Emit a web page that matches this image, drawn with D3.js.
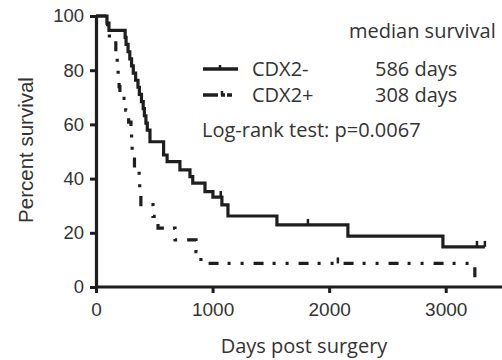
<!DOCTYPE html>
<html><head><meta charset="utf-8">
<script src="https://cdn.jsdelivr.net/npm/d3@7"></script>
<style>
html,body{margin:0;padding:0;background:#fff;}
svg{display:block;}
</style></head>
<body>
<svg id="c" width="502" height="360"></svg>
<script>
// ---- data ----
const negTimes = [0, 94, 111, 250, 258, 275, 290, 305, 320, 340, 360, 372, 390, 405, 415, 428, 440, 463, 580, 610, 720, 806, 830, 935, 1003, 1080, 1132, 1552, 2161, 2976, 3336];
const negSurv  = [100, 97.4, 94.7, 92.1, 89.5, 86.8, 84.2, 81.6, 78.9, 76.3, 73.7, 71.1, 68.4, 65.8, 63.2, 60.5, 57.9, 53.6, 48.7, 46.3, 43.2, 40.7, 38.3, 35.2, 33.2, 30.3, 26.2, 22.9, 18.8, 14.8, 14.8];
const negCensorTimes = [1070, 1818, 3268, 3336];
const negCensorSurv  = [33.2, 22.9, 14.8, 14.8];

const posTimes = [0, 100, 115, 170, 182, 190, 198, 205, 255, 280, 300, 305, 310, 330, 370, 375, 385, 489, 532, 678, 858, 900, 3250];
const posSurv  = [100, 95.65, 91.3, 86.96, 82.61, 78.26, 73.91, 69.57, 65.22, 60.87, 56.52, 52.17, 47.83, 43.48, 39.13, 34.78, 30.43, 26.09, 21.74, 17.39, 13.04, 8.7, 0];
const posCensorTimes = [2075];
const posCensorSurv  = [8.7];

const xTicks = [0, 1000, 2000, 3000];
const yTicks = [0, 20, 40, 60, 80, 100];
const seriesNames = ["CDX2-", "CDX2+"];
const medianLabels = ["586 days", "308 days"];
const medianTitle = "median survival";
const testLabel = "Log-rank test: p=0.0067";
const xTitle = "Days post surgery";
const yTitle = "Percent survival";

// ---- chart ----
const svg = d3.select("#c");
const ink = "#1e1e1e", txt = "#333";
const dashPat = "10,9,3,10,3,10";
const x = d3.scaleLinear().domain([0, 3500]).range([96, 504]);
const y = d3.scaleLinear().domain([0, 100]).range([287, 16]);

const line = d3.line().x(d => x(d[0])).y(d => y(d[1])).curve(d3.curveStepAfter);
const negData = negTimes.map((t, i) => [t, negSurv[i]]);
const posData = posTimes.map((t, i) => [t, posSurv[i]]);

svg.append("path").datum(negData).attr("d", line)
  .attr("fill", "none").attr("stroke", ink).attr("stroke-width", 3.2)
  .attr("stroke-linejoin", "miter");
svg.append("path").datum(posData).attr("d", line)
  .attr("fill", "none").attr("stroke", ink).attr("stroke-width", 3.2)
  .attr("stroke-dasharray", dashPat);

// censor ticks
function censor(ts, ss) {
  svg.append("g").selectAll("line").data(ts.map((t, i) => [t, ss[i]])).join("line")
    .attr("x1", d => x(d[0])).attr("x2", d => x(d[0]))
    .attr("y1", d => y(d[1])).attr("y2", d => y(d[1]) - 6)
    .attr("stroke", ink).attr("stroke-width", 2.5);
}
censor(negCensorTimes, negCensorSurv);
censor(posCensorTimes, posCensorSurv);

// axes
const xAxis = d3.axisBottom(x).tickValues(xTicks).tickSize(6).tickSizeOuter(0).tickPadding(10).tickFormat(d3.format("d"));
const gx = svg.append("g").attr("transform", `translate(0,${y(0)})`).call(xAxis);
gx.select(".domain").attr("d", `M${x(0)},0H502`).attr("stroke", ink).attr("stroke-width", 3.2);
gx.selectAll(".tick line").attr("stroke", ink).attr("stroke-width", 3);
gx.selectAll(".tick text").attr("fill", txt).style("font-family", "'Liberation Sans', Arial, sans-serif").style("font-size", "19px");

const yAxis = d3.axisLeft(y).tickValues(yTicks).tickSize(6).tickSizeOuter(0).tickPadding(6);
const gy = svg.append("g").attr("transform", `translate(${x(0)},0)`).call(yAxis);
gy.select(".domain").attr("stroke", ink).attr("stroke-width", 3.2);
gy.selectAll(".tick line").attr("stroke", ink).attr("stroke-width", 3);
gy.selectAll(".tick text").attr("fill", txt).style("font-family", "'Liberation Sans', Arial, sans-serif").style("font-size", "18.5px");

// axis titles
svg.append("text").attr("x", 304).attr("y", 353).attr("text-anchor", "middle")
  .attr("fill", txt).style("font-family", "'Open Sans', sans-serif").style("font-size", "20px").text(xTitle);
svg.append("text").attr("transform", "translate(33,150) rotate(-90)").attr("text-anchor", "middle")
  .attr("fill", txt).style("font-family", "'Liberation Sans', Arial, sans-serif").style("font-size", "20.5px").text(yTitle);

// legend
const lf = "'Open Sans', sans-serif";
svg.append("text").attr("x", 349).attr("y", 38).attr("fill", txt)
  .style("font-family", lf).style("font-size", "20px").text(medianTitle);
const rowsY = [69, 95];
// solid sample
svg.append("line").attr("x1", 203).attr("x2", 238).attr("y1", rowsY[0]).attr("y2", rowsY[0]).attr("stroke", ink).attr("stroke-width", 3.5);
svg.append("line").attr("x1", 220).attr("x2", 220).attr("y1", rowsY[0]).attr("y2", rowsY[0] - 4).attr("stroke", ink).attr("stroke-width", 2.5);
// dashed sample
svg.append("line").attr("x1", 203).attr("x2", 218).attr("y1", rowsY[1]).attr("y2", rowsY[1]).attr("stroke", ink).attr("stroke-width", 3.5);
svg.append("line").attr("x1", 221).attr("x2", 225).attr("y1", rowsY[1]).attr("y2", rowsY[1]).attr("stroke", ink).attr("stroke-width", 3.5);
svg.append("line").attr("x1", 222).attr("x2", 222).attr("y1", rowsY[1]).attr("y2", rowsY[1] - 4).attr("stroke", ink).attr("stroke-width", 2.5);
svg.append("line").attr("x1", 227).attr("x2", 232).attr("y1", rowsY[1]).attr("y2", rowsY[1]).attr("stroke", ink).attr("stroke-width", 3.5);

seriesNames.forEach((n, i) => {
  svg.append("text").attr("x", 252).attr("y", rowsY[i] + 7).attr("fill", txt)
    .style("font-family", lf).style("font-size", "20px").text(n);
  svg.append("text").attr("x", 375).attr("y", rowsY[i] + 7).attr("fill", txt)
    .style("font-family", lf).style("font-size", "20px").text(medianLabels[i]);
});
svg.append("text").attr("x", 202).attr("y", 137).attr("fill", txt)
  .style("font-family", lf).style("font-size", "20px").text(testLabel);
</script>
</body></html>
